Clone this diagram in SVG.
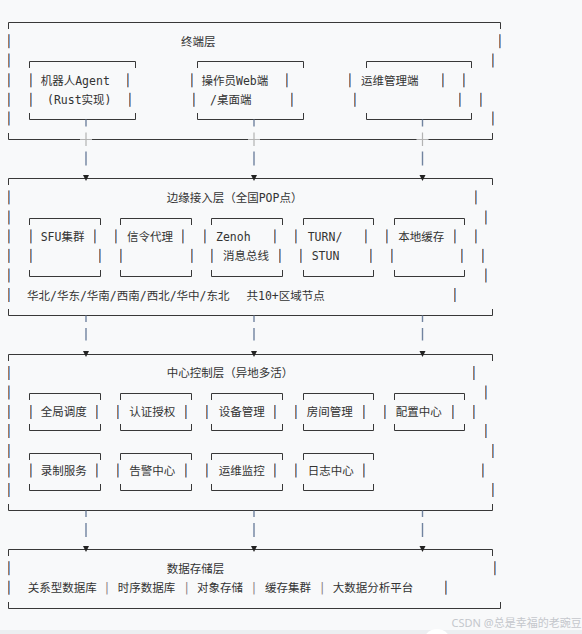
<svg xmlns="http://www.w3.org/2000/svg" xmlns:xlink="http://www.w3.org/1999/xlink" width="582" height="634" viewBox="0 0 582 634">
<style>
.ln{fill:none;stroke:#383838;stroke-width:1}
.t{font-family:"DejaVu Sans Mono","Noto Sans CJK SC",monospace;font-size:11.5px;fill:#333}
.sep{font-family:"DejaVu Sans Mono",monospace;font-size:11.5px;fill:#8a7f86;text-anchor:middle}
.c{fill:none;stroke:#71839f;stroke-width:1.4}
.x{fill:none;stroke:#b3b3b3;stroke-width:1.2}
.wm{font-family:"Noto Sans","Noto Sans CJK SC",sans-serif;font-size:11px;fill:#c4c7cc}
</style>
<defs>
<g id="vb"><rect x="-1" y="0" width="1" height="14" fill="#a8775a"/><rect x="0" y="0" width="1" height="14" fill="#74a2d4"/></g>
<path id="arw" d="M-3 -3.5H3L0 2.5Z" fill="#222"/>
</defs>
<rect width="582" height="634" fill="#f8f9fa"/>
<rect y="630" width="582" height="4" fill="#eceef1"/>
<circle cx="437" cy="643" r="14" fill="#ffffff"/>

<g id="layer-terminal">
<path class="ln" d="M8.5 29V22.5H500.5V29M8.5 133V139.5H492.5V133"/>
<use href="#vb" x="9" y="34.2"/><use href="#vb" x="9" y="53.5"/><use href="#vb" x="9" y="73.3"/><use href="#vb" x="9" y="92.8"/><use href="#vb" x="9" y="111.5"/>
<use href="#vb" x="500" y="34.2"/><use href="#vb" x="493" y="53.5"/><use href="#vb" x="464" y="73.3"/><use href="#vb" x="481" y="92.8"/><use href="#vb" x="493" y="111.5"/>
<text class="t" x="181" y="45.7">终端层</text>
<g id="robot-agent">
<path class="ln" d="M29.5 68V61.5H135.5V68M29.5 113V119.5H135.5V113"/>
<use href="#vb" x="31" y="73.3"/><use href="#vb" x="128" y="73.3"/><use href="#vb" x="31" y="92.8"/><use href="#vb" x="130" y="92.8"/>
<text class="t" x="40.7" y="84.8">机器人Agent</text>
<text class="t" x="47" y="104.3">(Rust实现)</text>
</g>
<g id="operator-client">
<path class="ln" d="M197.5 68V61.5H303.5V68M197.5 113V119.5H303.5V113"/>
<use href="#vb" x="192" y="73.3"/><use href="#vb" x="287" y="73.3"/><use href="#vb" x="194" y="92.8"/><use href="#vb" x="292" y="92.8"/>
<text class="t" x="201.5" y="84.8">操作员Web端</text>
<text class="t" x="210" y="104.3">/桌面端</text>
</g>
<g id="ops-client">
<path class="ln" d="M366.5 68V61.5H471.5V68M366.5 113V119.5H471.5V113"/>
<use href="#vb" x="350" y="73.3"/><use href="#vb" x="443" y="73.3"/><use href="#vb" x="355" y="92.8"/><use href="#vb" x="460" y="92.8"/>
<text class="t" x="361" y="84.8">运维管理端</text>
</g>
</g>

<g id="layer-edge">
<path class="ln" d="M8.5 185V178.5H492.5V185M8.5 309V315.5H492.5V309"/>
<use href="#vb" x="9" y="190.4"/><use href="#vb" x="9" y="210.5"/><use href="#vb" x="9" y="229.4"/><use href="#vb" x="9" y="248.9"/><use href="#vb" x="9" y="268.5"/><use href="#vb" x="9" y="288"/>
<use href="#vb" x="476" y="190.4"/><use href="#vb" x="486" y="210.5"/><use href="#vb" x="476" y="229.4"/><use href="#vb" x="483" y="248.9"/><use href="#vb" x="486" y="268.5"/><use href="#vb" x="455" y="288"/>
<text class="t" x="166.7" y="201.9">边缘接入层（全国POP点）</text>
<g id="sfu">
<path class="ln" d="M29.5 225V218.5H100.5V225M29.5 270V276.5H100.5V270"/>
<use href="#vb" x="31" y="229.4"/><use href="#vb" x="95" y="229.4"/><use href="#vb" x="31" y="248.9"/><use href="#vb" x="100" y="248.9"/>
<text class="t" x="40.7" y="240.9">SFU集群</text>
</g>
<g id="signaling">
<path class="ln" d="M120.5 225V218.5H191.5V225M120.5 270V276.5H191.5V270"/>
<use href="#vb" x="116" y="229.4"/><use href="#vb" x="183" y="229.4"/><use href="#vb" x="121" y="248.9"/><use href="#vb" x="192" y="248.9"/>
<text class="t" x="127" y="240.9">信令代理</text>
</g>
<g id="zenoh">
<path class="ln" d="M211.5 225V218.5H282.5V225M211.5 270V276.5H282.5V270"/>
<use href="#vb" x="205" y="229.4"/><use href="#vb" x="275" y="229.4"/><use href="#vb" x="212" y="248.9"/><use href="#vb" x="280" y="248.9"/>
<text class="t" x="216" y="240.9">Zenoh</text>
<text class="t" x="223" y="260.4">消息总线</text>
</g>
<g id="turn-stun">
<path class="ln" d="M303.5 225V218.5H373.5V225M303.5 270V276.5H373.5V270"/>
<use href="#vb" x="296" y="229.4"/><use href="#vb" x="366" y="229.4"/><use href="#vb" x="301" y="248.9"/><use href="#vb" x="371" y="248.9"/>
<text class="t" x="307.7" y="240.9">TURN/</text>
<text class="t" x="311.7" y="260.4">STUN</text>
</g>
<g id="local-cache">
<path class="ln" d="M394.5 225V218.5H464.5V225M394.5 270V276.5H464.5V270"/>
<use href="#vb" x="387" y="229.4"/><use href="#vb" x="455" y="229.4"/><use href="#vb" x="392" y="248.9"/><use href="#vb" x="462" y="248.9"/>
<text class="t" x="398.3" y="240.9">本地缓存</text>
</g>
<text class="t" x="27" y="299.5">华北/华东/华南/西南/西北/华中/东北</text>
<text class="t" x="246.5" y="299.5">共10+区域节点</text>
</g>

<g id="layer-center">
<path class="ln" d="M8.5 361V354.5H492.5V361M8.5 504V510.5H492.5V504"/>
<use href="#vb" x="9" y="366"/><use href="#vb" x="9" y="385.5"/><use href="#vb" x="9" y="405"/><use href="#vb" x="9" y="424"/><use href="#vb" x="9" y="444"/><use href="#vb" x="9" y="463.5"/><use href="#vb" x="9" y="483"/>
<use href="#vb" x="474" y="366"/><use href="#vb" x="486" y="385.5"/><use href="#vb" x="474" y="405"/><use href="#vb" x="486" y="424"/><use href="#vb" x="493" y="444"/><use href="#vb" x="483" y="463.5"/><use href="#vb" x="493" y="483"/>
<text class="t" x="166.7" y="377.2">中心控制层（异地多活）</text>
<g id="global-scheduling">
<path class="ln" d="M29.5 400V393.5H100.5V400M29.5 424V430.5H100.5V424"/>
<use href="#vb" x="31" y="405"/><use href="#vb" x="97" y="405"/>
<text class="t" x="40.7" y="416.3">全局调度</text>
</g>
<g id="auth">
<path class="ln" d="M120.5 400V393.5H191.5V400M120.5 424V430.5H191.5V424"/>
<use href="#vb" x="118" y="405"/><use href="#vb" x="186" y="405"/>
<text class="t" x="129.3" y="416.3">认证授权</text>
</g>
<g id="device-mgmt">
<path class="ln" d="M211.5 400V393.5H282.5V400M211.5 424V430.5H282.5V424"/>
<use href="#vb" x="207" y="405"/><use href="#vb" x="275" y="405"/>
<text class="t" x="218.7" y="416.3">设备管理</text>
</g>
<g id="room-mgmt">
<path class="ln" d="M303.5 400V393.5H373.5V400M303.5 424V430.5H373.5V424"/>
<use href="#vb" x="296" y="405"/><use href="#vb" x="364" y="405"/>
<text class="t" x="306.7" y="416.3">房间管理</text>
</g>
<g id="config-center">
<path class="ln" d="M394.5 400V393.5H464.5V400M394.5 424V430.5H464.5V424"/>
<use href="#vb" x="385" y="405"/><use href="#vb" x="453" y="405"/>
<text class="t" x="395.7" y="416.3">配置中心</text>
</g>
<g id="recording">
<path class="ln" d="M29.5 460V453.5H100.5V460M29.5 484V490.5H100.5V484"/>
<use href="#vb" x="31" y="463.5"/><use href="#vb" x="97" y="463.5"/>
<text class="t" x="40.7" y="475">录制服务</text>
</g>
<g id="alerting">
<path class="ln" d="M120.5 460V453.5H191.5V460M120.5 484V490.5H191.5V484"/>
<use href="#vb" x="118" y="463.5"/><use href="#vb" x="186" y="463.5"/>
<text class="t" x="129.3" y="475">告警中心</text>
</g>
<g id="ops-monitor">
<path class="ln" d="M211.5 460V453.5H282.5V460M211.5 484V490.5H282.5V484"/>
<use href="#vb" x="207" y="463.5"/><use href="#vb" x="275" y="463.5"/>
<text class="t" x="218.7" y="475">运维监控</text>
</g>
<g id="log-center">
<path class="ln" d="M303.5 460V453.5H373.5V460M303.5 484V490.5H373.5V484"/>
<use href="#vb" x="296" y="463.5"/><use href="#vb" x="364" y="463.5"/>
<text class="t" x="307.7" y="475">日志中心</text>
</g>
</g>

<g id="layer-storage">
<path class="ln" d="M8.5 556V549.5H492.5V556M8.5 602V608.5H500.5V602"/>
<use href="#vb" x="9" y="561.2"/><use href="#vb" x="9" y="580.7"/>
<use href="#vb" x="495" y="561.2"/><use href="#vb" x="446" y="580.7"/>
<text class="t" x="166.7" y="572.7">数据存储层</text>
<text class="t" x="27.7" y="592.2">关系型数据库</text>
<text class="sep" x="107" y="592.2">|</text>
<text class="t" x="117.7" y="592.2">时序数据库</text>
<text class="sep" x="186.7" y="592.2">|</text>
<text class="t" x="197" y="592.2">对象存储</text>
<text class="sep" x="254" y="592.2">|</text>
<text class="t" x="265" y="592.2">缓存集群</text>
<text class="sep" x="322.3" y="592.2">|</text>
<text class="t" x="332.7" y="592.2">大数据分析平台</text>
</g>

<g id="connectors">
<path class="c" d="M86 119.5V126.5M86 151.5V165.5M254 119.5V126.5M254 151.5V165.5M422.5 119.5V126.5M422.5 151.5V165.5"/>
<path class="x" d="M86 132.5V146M80 139.5H92M254 132.5V146M248 139.5H260M422.5 132.5V146M416.5 139.5H428.5"/>
<use href="#arw" x="86" y="178.5"/><use href="#arw" x="254" y="178.5"/><use href="#arw" x="422.5" y="178.5"/>
<path class="c" d="M86 315.5V322M86 328V340.5M254 315.5V322M254 328V340.5M422.5 315.5V322M422.5 328V340.5"/>
<use href="#arw" x="86" y="354.5"/><use href="#arw" x="254" y="354.5"/><use href="#arw" x="422.5" y="354.5"/>
<path class="c" d="M86 510.5V517M86 523V537M254 510.5V517M254 523V537M422.5 510.5V517M422.5 523V537"/>
<use href="#arw" x="86" y="549.5"/><use href="#arw" x="254" y="549.5"/><use href="#arw" x="422.5" y="549.5"/>
</g>

<text class="wm" x="451.5" y="627">CSDN @总是幸福的老豌豆</text>
</svg>
